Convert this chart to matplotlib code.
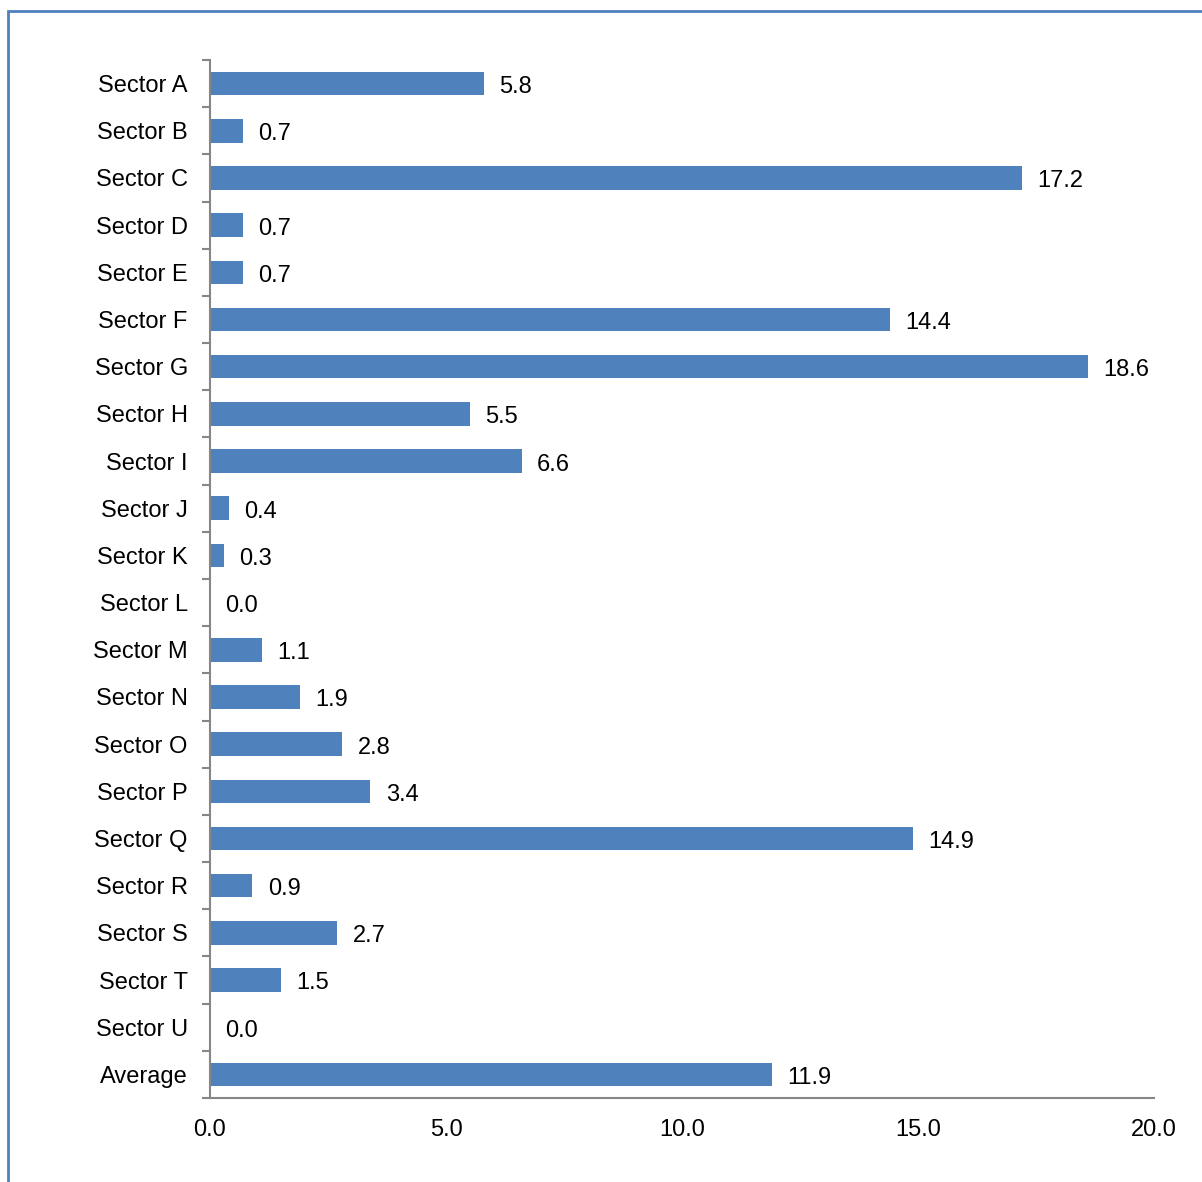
import matplotlib.pyplot as plt
from matplotlib.patches import Rectangle
import numpy as np

plt.rcParams['font.family'] = ['Liberation Sans', 'DejaVu Sans']

sectors = ['Sector A', 'Sector B', 'Sector C', 'Sector D', 'Sector E', 'Sector F',
           'Sector G', 'Sector H', 'Sector I', 'Sector J', 'Sector K', 'Sector L',
           'Sector M', 'Sector N', 'Sector O', 'Sector P', 'Sector Q', 'Sector R',
           'Sector S', 'Sector T', 'Sector U', 'Average']
values = [5.8, 0.7, 17.2, 0.7, 0.7, 14.4, 18.6, 5.5, 6.6, 0.4, 0.3, 0.0,
          1.1, 1.9, 2.8, 3.4, 14.9, 0.9, 2.7, 1.5, 0.0, 11.9]
xticks = [0, 5, 10, 15, 20]

bar_color = '#4F81BD'
axis_color = '#868686'

fig = plt.figure(figsize=(12.02, 11.82), dpi=100)
ax = fig.add_axes([0.1747, 0.0711, 0.7854, 0.8781])

# frame around the whole chart
fig.patches.append(Rectangle((8 / 1202, -0.1), 1.2, 1.1 - 11 / 1182,
                             transform=fig.transFigure, fill=False,
                             edgecolor=bar_color, linewidth=2, clip_on=False))

y = np.arange(len(sectors))
ax.barh(y, values, height=0.5, color=bar_color)

for yi, v in zip(y, values):
    ax.annotate(f'{v:.1f}', (v, yi), xytext=(11, -2.5), textcoords='offset points',
                ha='left', va='center', fontsize=17)

ax.set_ylim(len(sectors) - 0.5, -0.5)
ax.set_xlim(0, 20)

ax.set_xticks(xticks)
ax.set_xticklabels([f'{t:.1f}' for t in xticks], fontsize=17)
ax.tick_params(axis='x', length=0, pad=15)

# category labels sit between boundary ticks
ax.set_yticks(y)
ax.set_yticklabels(sectors, fontsize=17)
ax.tick_params(axis='y', which='major', length=0, pad=16)
ax.set_yticks(np.arange(-0.5, len(sectors), 1), minor=True)
ax.tick_params(axis='y', which='minor', length=6, width=1.5, color=axis_color)

for side in ['top', 'right']:
    ax.spines[side].set_visible(False)
for side in ['left', 'bottom']:
    ax.spines[side].set_color(axis_color)
    ax.spines[side].set_linewidth(1.5)

fig.savefig('out.png', dpi=100)
